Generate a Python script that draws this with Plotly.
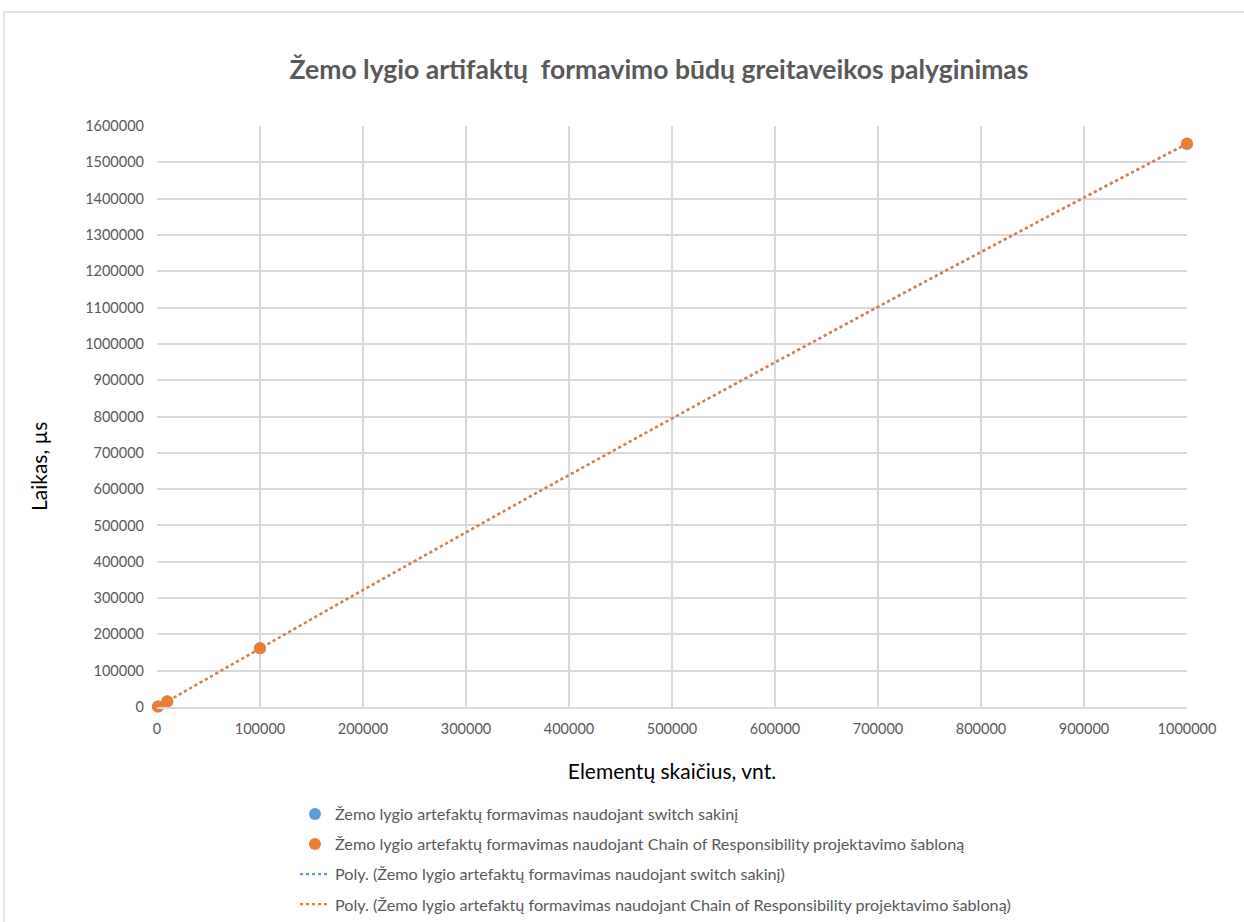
import numpy as np
import plotly.graph_objects as go

# Element counts and measured times (µs)
elements = [1000, 10000, 100000, 1000000]
time_switch = [1450, 15000, 161500, 1550500]
time_cor = [1500, 15500, 162000, 1552000]

name_switch = "Žemo lygio artefaktų formavimas naudojant switch sakinį"
name_cor = "Žemo lygio artefaktų formavimas naudojant Chain of Responsibility projektavimo šabloną"

title_text = "Žemo lygio artifaktų  formavimo būdų greitaveikos palyginimas"
x_title = "Elementų skaičius, vnt."
y_title = "Laikas, µs"

x_ticks = list(range(0, 1000001, 100000))
y_ticks = list(range(0, 1600001, 100000))

BLUE = "#5B9BD5"
ORANGE = "#ED7D31"
GRID = "#D9D9D9"
TICK = "#595959"
FONT = "Lato"

W, H = 1244, 922
L, R, T, B = 157, 57, 126, 215
PW, PH = W - L - R, H - T - B

# Second-order polynomial trendlines
xs = np.linspace(min(elements), max(elements), 200)
fit_switch = np.polyval(np.polyfit(elements, time_switch, 2), xs)
fit_cor = np.polyval(np.polyfit(elements, time_cor, 2), xs)

fig = go.Figure()
fig.add_trace(go.Scatter(x=xs, y=fit_switch, mode="lines",
                         line=dict(color=BLUE, width=2.2, dash="dot"),
                         name="Poly. (" + name_switch + ")",
                         legendgroup="c", legendrank=3))
fig.add_trace(go.Scatter(x=xs, y=fit_cor, mode="lines",
                         line=dict(color=ORANGE, width=2.2, dash="dot"),
                         name="Poly. (" + name_cor + ")",
                         legendgroup="d", legendrank=4))
fig.add_trace(go.Scatter(x=elements, y=time_switch, mode="markers",
                         marker=dict(color=BLUE, size=12), cliponaxis=False,
                         name=name_switch, legendgroup="a", legendrank=1))
fig.add_trace(go.Scatter(x=elements, y=time_cor, mode="markers",
                         marker=dict(color=ORANGE, size=12), cliponaxis=False,
                         name=name_cor, legendgroup="b", legendrank=2))

# light frame around the chart area (runs past the right and bottom edges)
fig.add_shape(type="rect", xref="paper", yref="paper",
              x0=(4 - L) / PW, x1=(W + 20 - L) / PW,
              y0=(T + PH - (H + 20)) / PH, y1=(T + PH - 12) / PH,
              line=dict(color=GRID, width=1.3), layer="below")

# vertical axis title
fig.add_annotation(text=y_title, textangle=-90, xref="paper", yref="paper",
                   x=(38 - L) / PW, y=(T + PH - 467) / PH,
                   xanchor="center", yanchor="middle", showarrow=False,
                   font=dict(size=21, color="#000000", family=FONT))

fig.update_layout(
    width=W, height=H,
    margin=dict(l=L, r=R, t=T, b=B, autoexpand=False),
    paper_bgcolor="white", plot_bgcolor="white",
    font=dict(family=FONT, color=TICK),
    title=dict(text="<b>" + title_text + "</b>", x=659 / W, xanchor="center",
               y=1 - 70 / H, yanchor="middle",
               font=dict(size=26.5, color=TICK, family=FONT)),
    showlegend=True,
    legend=dict(xref="container", yref="container",
                x=295 / W, xanchor="left",
                y=1 - 797 / H, yanchor="top",
                font=dict(size=16.2, color=TICK, family=FONT),
                tracegroupgap=6, traceorder="grouped",
                bgcolor="rgba(0,0,0,0)"),
    xaxis=dict(range=[0, 1000000], tickvals=x_ticks, ticktext=[str(v) for v in x_ticks],
               showgrid=True, gridcolor=GRID, gridwidth=1.5,
               showline=True, linecolor=GRID, linewidth=1.5,
               zeroline=False, ticks="", ticklabelstandoff=8,
               tickfont=dict(size=14.5, color=TICK),
               title=dict(text=x_title, font=dict(size=21, color="#000000"), standoff=28)),
    yaxis=dict(range=[0, 1600000], tickvals=y_ticks, ticktext=[str(v) for v in y_ticks],
               showgrid=True, gridcolor=GRID, gridwidth=1.5,
               zeroline=False, ticks="", ticklabelstandoff=12,
               tickfont=dict(size=14.5, color=TICK)),
)

fig.write_html("out.html")
